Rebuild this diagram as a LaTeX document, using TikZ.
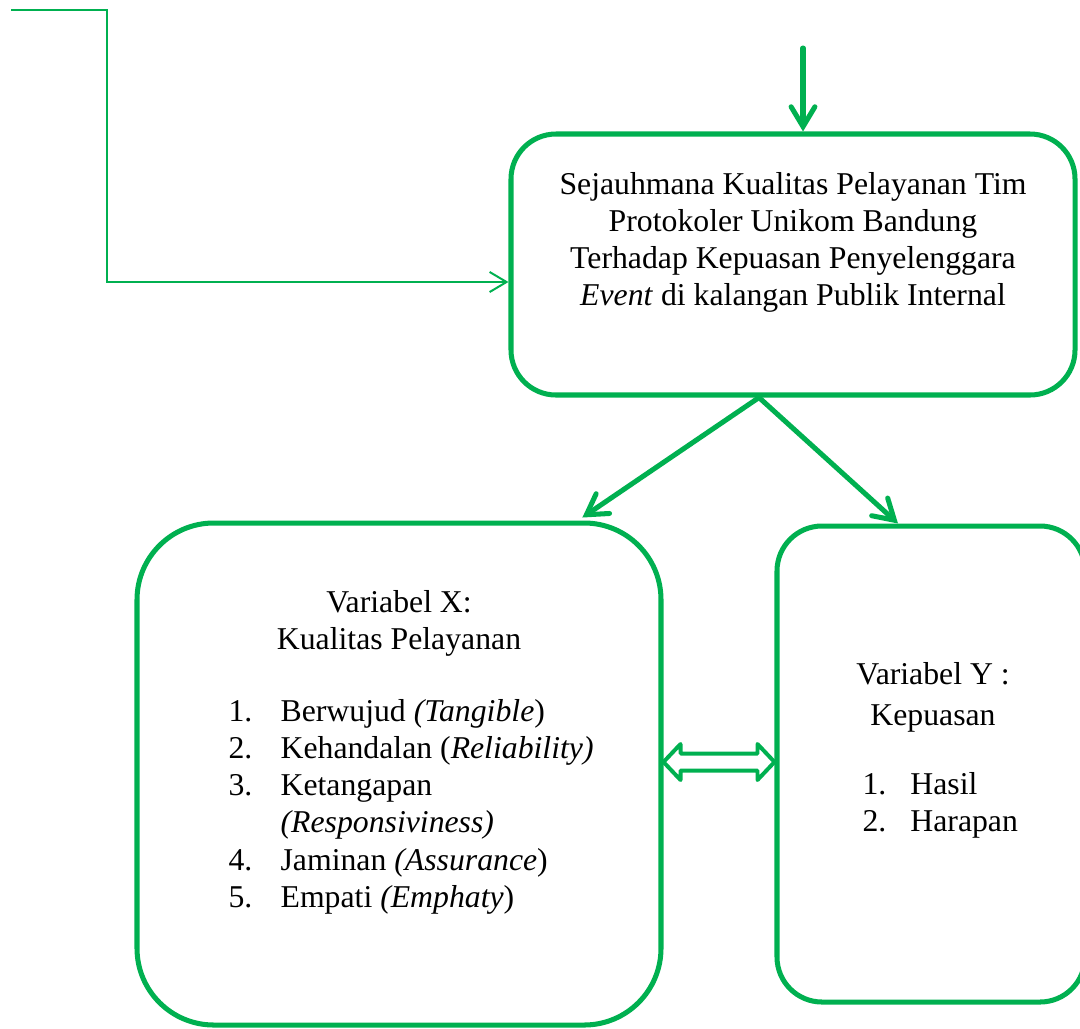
\documentclass[tikz,border=0pt]{standalone}
\usepackage{fontspec}
\setmainfont{Liberation Serif}
\usetikzlibrary{arrows.meta,calc}
\definecolor{hijau}{HTML}{00B050}
\newcommand\pxu{0.378pt}

\begin{document}
\begin{tikzpicture}[x=\pxu, y=-\pxu, font=\fontsize{12}{14.1}\selectfont]
\tikzstyle{kotak} = [draw=hijau, line width=1.9pt, rounded corners=17pt, inner sep=0pt]
\tikzstyle{teks} = [inner sep=0pt, anchor=base]
\tikzstyle{panah} = [draw=hijau, line width=1.9pt, line cap=round, -{Straight Barb[length=7.5pt,width=9pt,line cap=round]}]
\tikzstyle{panahtipis} = [draw=hijau, line width=0.75pt, -{Straight Barb[length=6.4pt,width=7.6pt]}]
\tikzstyle{ganda} = [draw=hijau, line width=1.5pt, line join=round]

\useasboundingbox (0,0) rectangle (1080,1028);

% kotak rumusan masalah
\node [kotak, minimum width=564*\pxu, minimum height=261*\pxu] (masalah) at (793,264.5) {};
\node [teks] (judul) at (793,194) {\begin{tabular}[t]{@{}c@{}}
Sejauhmana Kualitas Pelayanan Tim\\
Protokoler Unikom Bandung\\
Terhadap Kepuasan Penyelenggara\\
\textit{Event} di kalangan Publik Internal
\end{tabular}};

% variabel X
\node [kotak, rounded corners=29pt, minimum width=524*\pxu, minimum height=502*\pxu] (varx) at (399,774) {};
\node [teks] (varxjudul) at (399,612) {\begin{tabular}[t]{@{}c@{}}
Variabel X:\\
Kualitas Pelayanan
\end{tabular}};
\node [teks, anchor=base west] (varxisi) at (228,721) {\begin{tabular}[t]{@{}p{19.7pt}@{}l@{}}
1. & Berwujud \textit{(Tangible})\\
2. & Kehandalan (\textit{Reliability)}\\
3. & Ketangapan\\
   & \textit{(Responsiviness)}\\
4. & Jaminan \textit{(Assurance})\\
5. & Empati \textit{(Emphaty})
\end{tabular}};

% variabel Y
\node [kotak, minimum width=308*\pxu, minimum height=476*\pxu] (vary) at (931,764) {};
\node [teks] (varyjudul) at (933,684) {\begin{tabular}[t]{@{}c@{}}
Variabel Y :\\[1.5pt]
Kepuasan
\end{tabular}};
\node [teks, anchor=base west] (varyisi) at (862,794) {\begin{tabular}[t]{@{}p{18.1pt}@{}l@{}}
1. & Hasil\\
2. & Harapan
\end{tabular}};

% penghubung
\coordinate (awal) at (11,10);
\coordinate (tepi) at (107,282);
\coordinate (atas) at (803,48);
\coordinate (pangkal) at (masalah.south -| 759,0);
\coordinate (kiri) at (varx.east |- 0,762);
\coordinate (kanan) at (vary.west |- 0,762);

\path [panahtipis] (awal) -| (tepi) -- (tepi -| masalah.west);
\path [panah] (atas) -- (atas |- masalah.north);
\path [panah, shorten >=2pt] (pangkal) -- (varx.north -| 578,0);
\path [panah] (pangkal) -- (vary.north -| 898,0);
\draw [ganda] (kiri) -- ++(17,-18) -- ++(0,9.5) -- ($(kanan)+(-17,-8.5)$) -- ++(0,-9.5)
  -- (kanan) -- ++(-17,18) -- ++(0,-9.5) -- ($(kiri)+(17,8.5)$) -- ++(0,9.5) -- cycle;
\end{tikzpicture}
\end{document}
